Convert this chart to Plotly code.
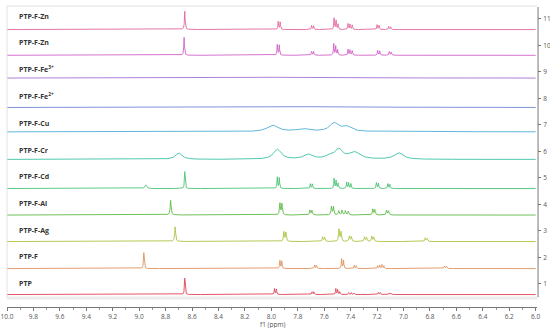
import numpy as np
import plotly.graph_objects as go

# Spectrum names (bottom to top) and their baseline offsets on the stacking axis
names = ["PTP", "PTP-F", "PTP-F-Ag", "PTP-F-Al", "PTP-F-Cd", "PTP-F-Cr",
         "PTP-F-Cu", "PTP-F-Fe<sup>2+</sup>", "PTP-F-Fe<sup>3+</sup>", "PTP-F-Zn", "PTP-F-Zn"]
baselines = [0.6, 1.58, 2.6, 3.6, 4.6, 5.7, 6.74, 7.66, 8.77, 9.63, 10.6]
label_y = [1.02, 2.04, 3.02, 4.04, 5.04, 6.04, 7.04, 8.08, 9.1, 10.1, 11.1]
colors = ["#e04454", "#e0925e", "#a9c444", "#5cba46", "#4cc476", "#3cc2a6",
          "#4eaed4", "#7484d4", "#a474d6", "#d162c6", "#e2679e"]

# Peak tables: (shift ppm, height, half-width ppm)
peaks_PTP = [(8.655, 0.62, 0.003), (7.976, 0.22, 0.003), (7.962, 0.2, 0.003),
             (7.692, 0.1, 0.003), (7.678, 0.1, 0.003), (7.512, 0.22, 0.003),
             (7.498, 0.18, 0.003), (7.482, 0.1, 0.003), (7.415, 0.07, 0.003),
             (7.395, 0.07, 0.003), (7.375, 0.06, 0.003), (7.19, 0.08, 0.003),
             (7.176, 0.07, 0.003), (7.108, 0.06, 0.003), (7.094, 0.05, 0.003)]
peaks_F = [(8.965, 0.6, 0.003), (7.935, 0.3, 0.003), (7.921, 0.28, 0.003),
           (7.672, 0.13, 0.003), (7.658, 0.12, 0.003), (7.468, 0.36, 0.003),
           (7.454, 0.3, 0.003), (7.372, 0.12, 0.003), (7.358, 0.1, 0.003),
           (7.195, 0.1, 0.003), (7.18, 0.13, 0.003), (7.163, 0.15, 0.003),
           (7.148, 0.1, 0.003), (6.69, 0.09, 0.004), (6.675, 0.08, 0.004)]
peaks_Ag = [(8.728, 0.55, 0.004), (8.9, 0.02, 0.1), (7.905, 0.36, 0.004),
            (7.89, 0.34, 0.004), (7.612, 0.17, 0.004), (7.597, 0.16, 0.004),
            (7.488, 0.46, 0.004), (7.473, 0.36, 0.004), (7.41, 0.2, 0.004),
            (7.395, 0.18, 0.004), (7.295, 0.17, 0.004), (7.28, 0.15, 0.004),
            (7.24, 0.2, 0.004), (7.225, 0.16, 0.004), (6.835, 0.14, 0.004),
            (6.82, 0.11, 0.004)]
peaks_Al = [(8.762, 0.55, 0.004), (8.9, 0.02, 0.1), (7.935, 0.44, 0.004),
            (7.92, 0.42, 0.004), (7.708, 0.18, 0.004), (7.693, 0.17, 0.004),
            (7.545, 0.32, 0.004), (7.53, 0.3, 0.004), (7.49, 0.16, 0.004),
            (7.465, 0.18, 0.004), (7.44, 0.16, 0.004), (7.418, 0.14, 0.004),
            (7.232, 0.22, 0.004), (7.217, 0.2, 0.004), (7.128, 0.18, 0.004),
            (7.113, 0.15, 0.004)]
peaks_Cd = [(8.95, 0.14, 0.008), (8.655, 0.64, 0.003), (7.955, 0.43, 0.003),
            (7.94, 0.4, 0.003), (7.705, 0.18, 0.003), (7.69, 0.17, 0.003),
            (7.525, 0.38, 0.003), (7.51, 0.3, 0.003), (7.495, 0.2, 0.003),
            (7.43, 0.24, 0.003), (7.415, 0.22, 0.003), (7.398, 0.18, 0.003),
            (7.205, 0.22, 0.003), (7.19, 0.2, 0.003), (7.118, 0.18, 0.003),
            (7.103, 0.15, 0.003)]
peaks_Cr = [(8.7, 0.24, 0.03), (7.955, 0.38, 0.035), (7.72, 0.18, 0.04),
            (7.56, 0.12, 0.03), (7.49, 0.36, 0.035), (7.37, 0.26, 0.05),
            (7.035, 0.24, 0.04)]
peaks_Cu = [(7.99, 0.24, 0.05), (7.76, 0.1, 0.06), (7.525, 0.32, 0.04),
            (7.43, 0.18, 0.04), (6.95, 0.03, 0.2)]
peaks_Fe2 = [(7.55, 0.04, 0.3)]
peaks_Fe3 = [(7.9, 0.03, 0.25), (7.4, 0.02, 0.2)]
peaks_Zn2 = [(8.66, 0.68, 0.003), (7.955, 0.4, 0.003), (7.94, 0.38, 0.003),
             (7.695, 0.15, 0.003), (7.68, 0.14, 0.003), (7.528, 0.43, 0.003),
             (7.513, 0.34, 0.003), (7.498, 0.2, 0.003), (7.42, 0.22, 0.003),
             (7.405, 0.2, 0.003), (7.388, 0.17, 0.003), (7.195, 0.18, 0.003),
             (7.18, 0.16, 0.003), (7.108, 0.14, 0.003), (7.093, 0.12, 0.003)]
peaks_Zn1 = [(8.655, 0.68, 0.003), (8.7, 0.02, 0.05), (7.948, 0.3, 0.003),
             (7.933, 0.28, 0.003), (7.695, 0.15, 0.003), (7.68, 0.14, 0.003),
             (7.525, 0.43, 0.003), (7.51, 0.34, 0.003), (7.495, 0.2, 0.003),
             (7.42, 0.22, 0.003), (7.405, 0.2, 0.003), (7.388, 0.17, 0.003),
             (7.2, 0.18, 0.003), (7.185, 0.16, 0.003), (7.112, 0.12, 0.003),
             (7.097, 0.1, 0.003)]
peak_tables = [peaks_PTP, peaks_F, peaks_Ag, peaks_Al, peaks_Cd, peaks_Cr,
               peaks_Cu, peaks_Fe2, peaks_Fe3, peaks_Zn2, peaks_Zn1]

x_ticks = [round(10.0 - 0.2 * i, 1) for i in range(21)]
y_ticks = list(range(1, 12))

ppm = np.linspace(10.0, 6.0, 4001)

fig = go.Figure()
for name, base, table, col in zip(names, baselines, peak_tables, colors):
    y = np.full_like(ppm, base)
    for c, h, w in table:
        y += h * w * w / ((ppm - c) ** 2 + w * w)
    fig.add_trace(go.Scatter(x=ppm, y=y, mode="lines", name=name,
                             line=dict(color=col, width=0.9), hoverinfo="skip",
                             showlegend=False))

for name, ly in zip(names, label_y):
    fig.add_annotation(x=9.925, y=ly, text="<b>%s</b>" % name, showarrow=False,
                       xanchor="left", yanchor="middle", xref="x", yref="y",
                       font=dict(family="Open Sans, Arial, sans-serif", size=7,
                                 color="#333333"))

fig.add_annotation(x=0.5, y=0, xref="paper", yref="paper", text="f1 (ppm)",
                   showarrow=False, xanchor="center", yanchor="middle", yshift=-17.5,
                   font=dict(family="Open Sans, Arial, sans-serif", size=6.5,
                             color="#555555"))

# frame lines (light) and right axis line
fig.add_shape(type="line", xref="paper", yref="paper", x0=0, x1=1, y0=1, y1=1,
              line=dict(color="#e2e2e2", width=1))
fig.add_shape(type="line", xref="paper", yref="paper", x0=0, x1=0, y0=0.03, y1=1,
              line=dict(color="#e2e2e2", width=1))
fig.add_shape(type="line", xref="paper", yref="y", x0=0, x1=1, y0=0.47, y1=0.47,
              line=dict(color="#ececec", width=3))
fig.add_shape(type="line", xref="paper", yref="y", x0=1.002, x1=1.002, y0=0.5, y1=11.45,
              line=dict(color="#777777", width=1))

fig.update_layout(
    template="none",
    width=550, height=328,
    margin=dict(l=7, r=13, t=6, b=21),
    paper_bgcolor="white", plot_bgcolor="white",
    font=dict(family="Open Sans, Arial, sans-serif", size=6.5, color="#555555"),
    xaxis=dict(range=[10.0, 5.99], tickvals=x_ticks, ticktext=["%.1f" % v for v in x_ticks],
               ticks="outside", ticklen=3, tickcolor="#777777", showline=True,
               linecolor="#777777", linewidth=1, showgrid=False, zeroline=False,
               automargin=False,
               minor=dict(dtick=0.1, ticks="outside", ticklen=2, tickcolor="#999999",
                          showgrid=False),
               tickfont=dict(size=6.5, color="#555555")),
    yaxis=dict(range=[0.13, 11.49], side="right", tickvals=y_ticks, ticks="outside",
               ticklen=3, tickcolor="#777777", showline=False, showgrid=False,
               zeroline=False, automargin=False,
               tickfont=dict(size=6.5, color="#555555"), ticklabelstandoff=1),
)

fig.write_html("out.html", config={"displayModeBar": False},
               post_script="document.body.style.margin='0px';document.body.style.overflow='hidden';")
